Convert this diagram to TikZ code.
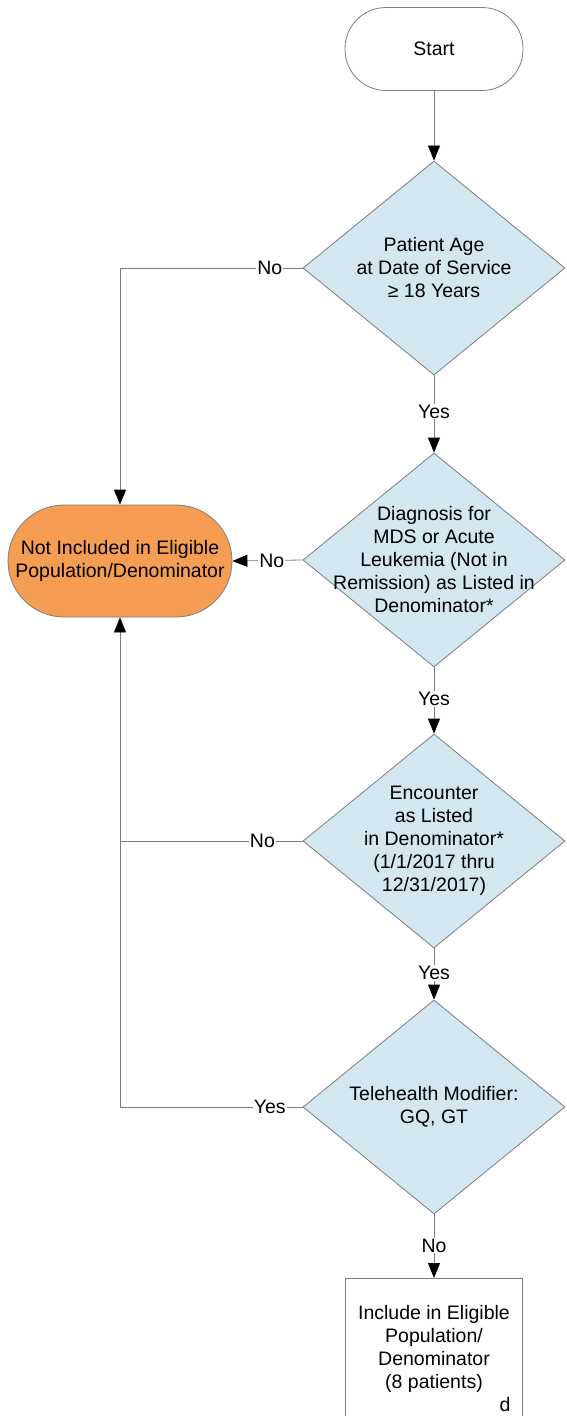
\documentclass[tikz,border=0pt]{standalone}
\usepackage{fontspec}
\setmainfont{Liberation Sans}
\usetikzlibrary{shapes.geometric,arrows.meta}
\definecolor{decblue}{RGB}{210,231,239}
\definecolor{exclorange}{RGB}{246,157,84}
\definecolor{edgegray}{RGB}{125,125,125}
\tikzset{
	every node/.style={font=\fontsize{19.5}{23}\selectfont},
	terminal/.style={draw=edgegray,line width=0.8pt,rectangle,rounded corners=#1,inner sep=0pt,align=center},
	decision/.style={draw=edgegray,line width=0.8pt,fill=decblue,diamond,minimum width=262pt,minimum height=214pt,inner sep=0pt},
	txt/.style={align=center},
	procbox/.style={draw=edgegray,line width=0.8pt,rectangle,minimum width=177pt,inner xsep=4pt,inner ysep=27pt,align=center},
	flow/.style={draw=edgegray,line width=0.8pt,-{Triangle[length=15pt,width=12pt,black]}},
	plain/.style={draw=edgegray,line width=0.8pt},
	answer/.style={fill=white,inner sep=1pt}
}

\begin{document}
\begin{tikzpicture}[x=1pt,y=-1pt]
\useasboundingbox (0,0) rectangle (566,1416);
\clip (0,0) rectangle (566,1416);

%start
\node[terminal=41pt,minimum width=178pt,minimum height=83pt] (start) at (434,49) {Start};

%decisions
\node[decision,label={[txt]center:Patient Age\\at Date of Service\\≥ 18 Years}] (age) at (434,268) {};
\node[decision,label={[txt]center:Diagnosis for\\MDS or Acute\\Leukemia (Not in\\Remission) as Listed in\\Denominator*}] (diag) at (434,560) {};
\node[decision,label={[txt]center:Encounter\\as Listed\\in Denominator*\\(1/1/2017 thru\\12/31/2017)}] (enc) at (434,841) {};
\node[decision,label={[txt]center:Telehealth Modifier:\\GQ, GT}] (tele) at (434,1107) {};

%outcomes
\node[terminal=56pt,fill=exclorange,minimum width=224pt,minimum height=112pt] (excl) at (120,561) {Not Included in Eligible\\Population/Denominator};
\node[procbox,anchor=north] (incl) at (434,1278) {Include in Eligible\\Population/\\Denominator\\(8 patients)};
\node (dmark) at (505,1405) {d};

%connectors
\draw[flow] (start) -- (age);
\draw[flow] (age.west) -| node[answer,pos=0.09]{No} (excl.north);
\draw[flow] (age) -- node[answer,pos=0.47]{Yes} (diag);
\draw[flow] (diag.west) -- node[answer,pos=0.44]{No} (excl.east);
\draw[flow] (diag) -- node[answer,pos=0.48]{Yes} (enc);
\draw[plain] (enc.west) -- node[answer,pos=0.22]{No} (enc.west -| excl.south);
\draw[flow] (enc) -- node[answer,pos=0.48]{Yes} (tele);
\draw[flow] (tele.west) -| node[answer,pos=0.09]{Yes} (excl.south);
\draw[flow] (tele) -- node[answer,pos=0.49]{No} (incl);
\end{tikzpicture}
\end{document}
